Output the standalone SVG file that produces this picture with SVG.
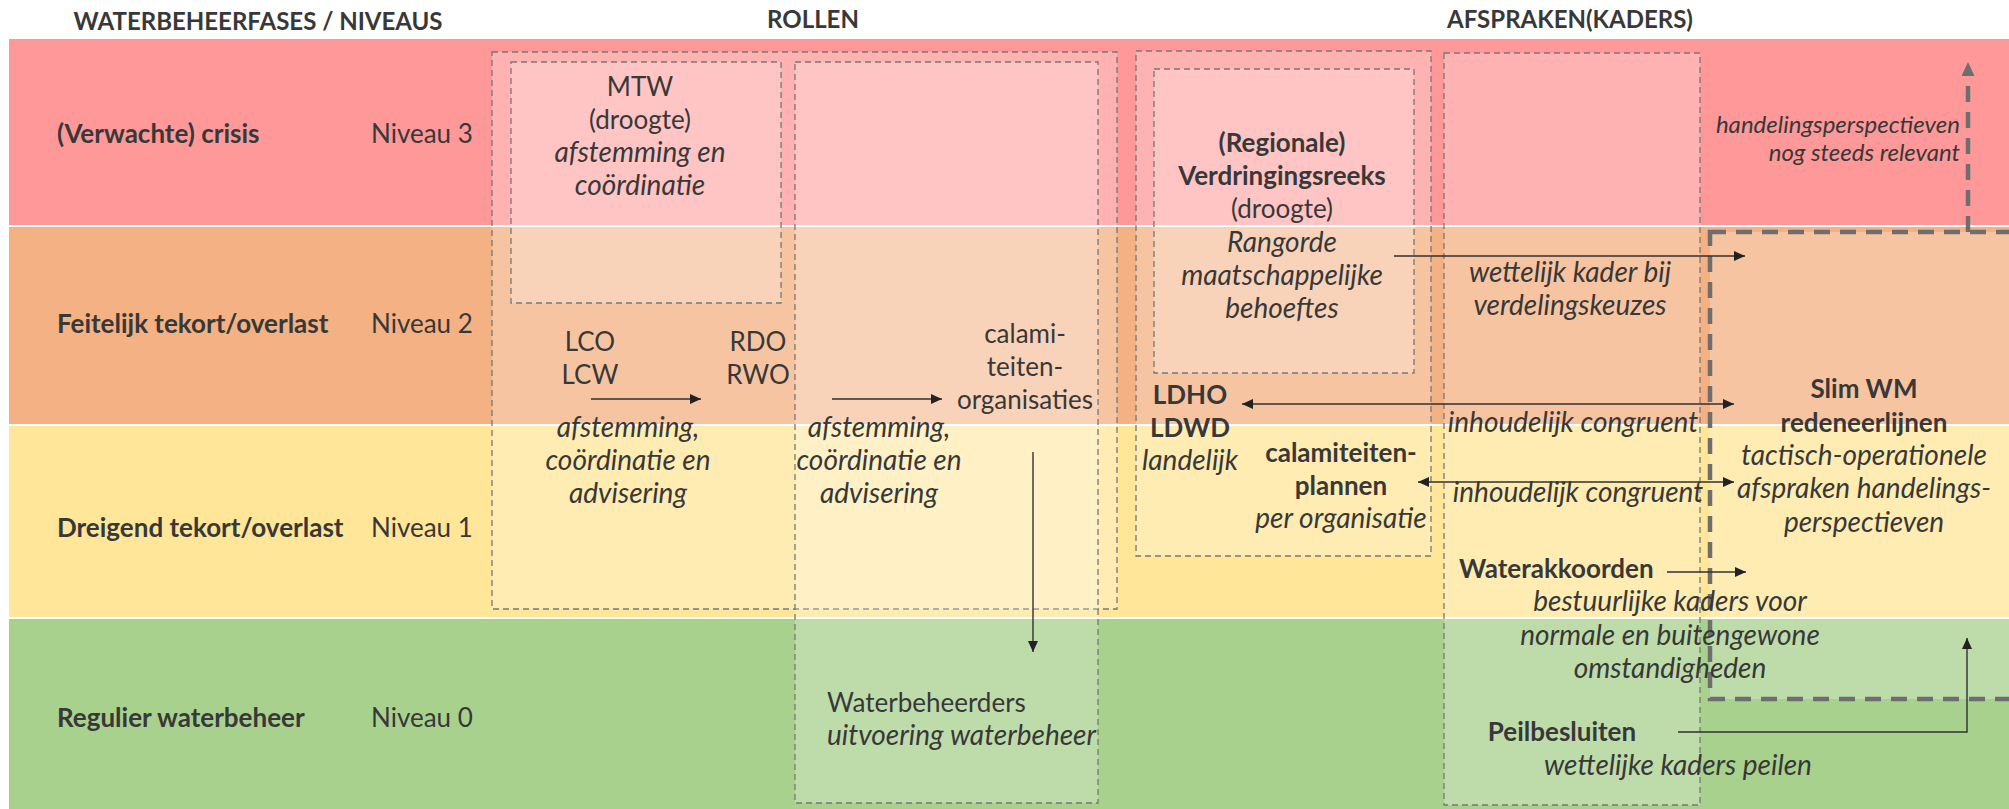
<svg xmlns="http://www.w3.org/2000/svg" width="2009" height="809" viewBox="0 0 2009 809">
<defs>
<style>
.t{font-family:Lato,"Liberation Sans",sans-serif;font-size:26px;fill:#383838}
.h{font-weight:bold;font-size:24px}
.b{font-weight:bold}
.i{font-style:italic;font-size:28px}
.s{font-size:24px}
.m{text-anchor:middle}
.e{text-anchor:end}
.box{fill:#fff;fill-opacity:.25;stroke:#777;stroke-width:1.3;stroke-dasharray:6 4}
.big{fill:#fff;fill-opacity:.25;stroke:#6e6e6e;stroke-width:4.5;stroke-dasharray:16 10}
.ln{fill:none;stroke:#303030;stroke-width:1.4}
.dl{fill:none;stroke:#6e6e6e;stroke-width:4.5;stroke-dasharray:16 10}
</style>
<marker id="ah" markerUnits="userSpaceOnUse" markerWidth="11" markerHeight="10" refX="11" refY="5" orient="auto-start-reverse" viewBox="0 0 11 10"><path d="M0,0L11,5L0,10z" fill="#222"/></marker>
<marker id="gh" markerUnits="userSpaceOnUse" markerWidth="14" markerHeight="13" refX="0" refY="6.5" orient="auto" viewBox="0 0 14 13"><path d="M0,0L14,6.5L0,13z" fill="#6e6e6e"/></marker>
</defs>
<rect width="2009" height="809" fill="#fff"/>
<g id="bands">
<rect x="9" y="39" width="2000" height="186" fill="#FF9999"/>
<rect x="9" y="227" width="2000" height="197" fill="#F4B183"/>
<rect x="9" y="426" width="2000" height="191" fill="#FFE699"/>
<rect x="9" y="619" width="2000" height="190" fill="#A9D18E"/>
</g>
<g id="headers" class="t h">
<text x="258" y="30" class="m">WATERBEHEERFASES / NIVEAUS</text>
<text x="813" y="28" class="m">ROLLEN</text>
<text x="1570" y="28" class="m">AFSPRAKEN(KADERS)</text>
</g>
<g id="row3" class="t"><text x="57" y="143" class="b">(Verwachte) crisis</text><text x="371" y="143">Niveau 3</text></g>
<g id="row2" class="t"><text x="57" y="333" class="b">Feitelijk tekort/overlast</text><text x="371" y="333">Niveau 2</text></g>
<g id="row1" class="t"><text x="57" y="537" class="b">Dreigend tekort/overlast</text><text x="371" y="537">Niveau 1</text></g>
<g id="row0" class="t"><text x="57" y="727" class="b">Regulier waterbeheer</text><text x="371" y="727">Niveau 0</text></g>

<g id="rollen-regionaal">
<rect class="box" x="492" y="52" width="625" height="557"/>
<g class="t m">
<text x="590" y="351">LCO</text><text x="590" y="384">LCW</text>
<text x="758" y="351">RDO</text><text x="758" y="384">RWO</text>
<g class="i"><text x="628" y="437">afstemming,</text><text x="628" y="470">coördinatie en</text><text x="628" y="503">advisering</text></g>
</g>
</g>
<g id="mtw">
<rect class="box" x="511" y="62" width="270" height="241"/>
<g class="t m">
<text x="640" y="96">MTW</text><text x="640" y="129">(droogte)</text>
<text x="640" y="162" class="i">afstemming en</text><text x="640" y="195" class="i">coördinatie</text>
</g>
</g>
<g id="calamiteitenorganisaties">
<rect class="box" x="795" y="62" width="303" height="741"/>
<g class="t m">
<text x="1025" y="343">calami-</text><text x="1025" y="376">teiten-</text><text x="1025" y="409">organisaties</text>
<g class="i"><text x="879" y="437">afstemming,</text><text x="879" y="470">coördinatie en</text><text x="879" y="503">advisering</text></g>
</g>
<g class="t"><text x="827" y="712">Waterbeheerders</text><text x="827" y="745" class="i">uitvoering waterbeheer</text></g>
</g>
<g id="landelijk">
<rect class="box" x="1136" y="51" width="295" height="505"/>
<g class="t m">
<text x="1190" y="404" class="b">LDHO</text><text x="1190" y="437" class="b">LDWD</text><text x="1190" y="470" class="i">landelijk</text>
<text x="1341" y="462" class="b">calamiteiten-</text><text x="1341" y="495" class="b">plannen</text><text x="1341" y="528" class="i">per organisatie</text>
</g>
</g>
<g id="verdringingsreeks">
<rect class="box" x="1154" y="69" width="260" height="304"/>
<g class="t m">
<text x="1282" y="152" class="b">(Regionale)</text><text x="1282" y="185" class="b">Verdringingsreeks</text><text x="1282" y="218">(droogte)</text>
<g class="i"><text x="1282" y="252">Rangorde</text><text x="1282" y="285">maatschappelijke</text><text x="1282" y="318">behoeftes</text></g>
</g>
</g>
<g id="slim-wm">
<rect class="big" x="1710" y="232" width="320" height="467"/>
<g class="t m">
<text x="1864" y="398" class="b">Slim WM</text><text x="1864" y="432" class="b">redeneerlijnen</text>
<g class="i"><text x="1864" y="465">tactisch-operationele</text><text x="1864" y="498">afspraken handelings-</text><text x="1864" y="532">perspectieven</text></g>
</g>
</g>
<g id="kaders">
<rect class="box" x="1444" y="53" width="256" height="752"/>
<g class="t m">
<g class="i"><text x="1570" y="282">wettelijk kader bij</text><text x="1570" y="315">verdelingskeuzes</text></g>
<text x="1459" y="578" class="b" text-anchor="start">Waterakkoorden</text>
<g class="i"><text x="1670" y="611">bestuurlijke kaders voor</text><text x="1670" y="645">normale en buitengewone</text><text x="1670" y="678">omstandigheden</text></g>
<text x="1562" y="741" class="b">Peilbesluiten</text>
<text x="1678" y="775" class="i">wettelijke kaders peilen</text>
</g>
</g>
<g id="connectors">
<path class="ln" d="M591,399H701" marker-end="url(#ah)"/>
<path class="ln" d="M832,399H942" marker-end="url(#ah)"/>
<path class="ln" d="M1033,452V652" marker-end="url(#ah)"/>
<path class="ln" d="M1394,256H1745" marker-end="url(#ah)"/>
<path class="ln" d="M1242,404H1734" marker-start="url(#ah)" marker-end="url(#ah)"/>
<path class="ln" d="M1418,482H1734" marker-start="url(#ah)" marker-end="url(#ah)"/>
<path class="ln" d="M1667,572H1746" marker-end="url(#ah)"/>
<path class="ln" d="M1678,732H1967V638" marker-end="url(#ah)"/>
<path class="dl" d="M1968,232V76" marker-end="url(#gh)"/>
<g class="t i">
<text x="1573" y="432" class="m">inhoudelijk congruent</text>
<text x="1578" y="502" class="m">inhoudelijk congruent</text>
<g class="s e"><text x="1960" y="133">handelingsperspectieven</text><text x="1960" y="161">nog steeds relevant</text></g>
</g>
</g>
</svg>
